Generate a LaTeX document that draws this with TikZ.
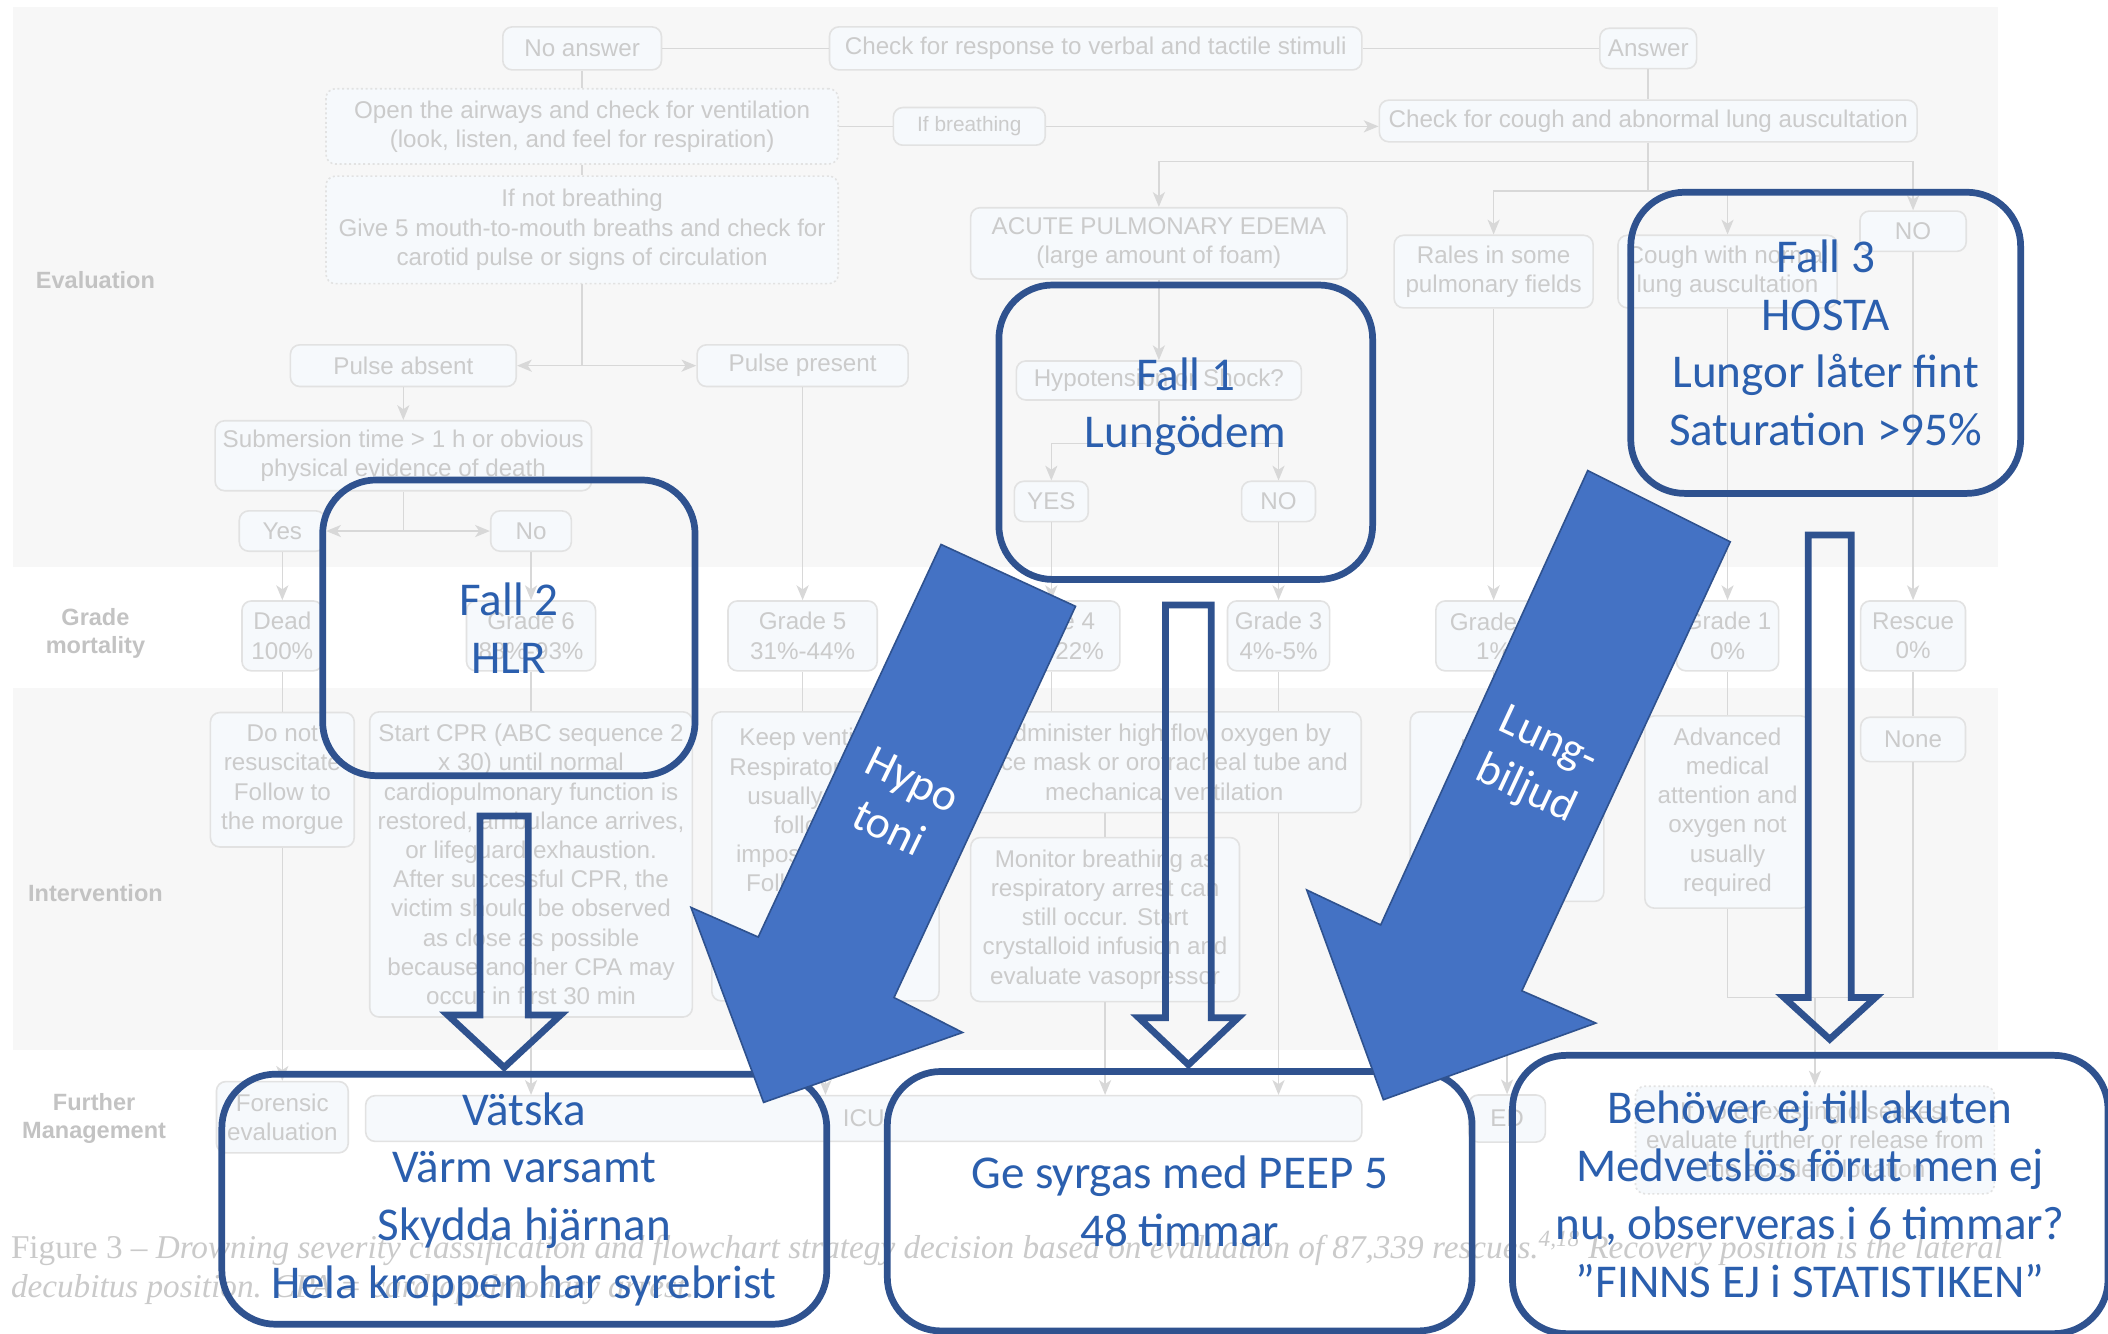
\documentclass[tikz,border=0pt]{standalone}
\usepackage{fontspec}
\setmainfont{Liberation Serif}
\setsansfont{Liberation Sans}
\newfontfamily\callfont{Carlito}
\usepackage{tikz}
\usetikzlibrary{calc}
\usetikzlibrary{positioning}
\usetikzlibrary{arrows.meta}

\definecolor{bandgray}{HTML}{F7F7F7}
\definecolor{fboxfill}{HTML}{F6F9FC}
\definecolor{fboxline}{HTML}{E2E2E2}
\definecolor{ftext}{HTML}{CBCBCB}
\definecolor{flinec}{HTML}{D8D8D8}
\definecolor{labelgray}{HTML}{C3C3C3}
\definecolor{capgray}{HTML}{CACACA}
\definecolor{falledge}{HTML}{2F528F}
\definecolor{falltext}{HTML}{2B5FAE}
\definecolor{arrowblue}{HTML}{4472C4}

\begin{document}
\begin{tikzpicture}[x=1pt,y=-1pt]
\tikzstyle{fbox}=[rectangle,rounded corners=7pt,draw=fboxline,fill=fboxfill,line width=1.2pt,text=ftext,align=center,inner sep=2pt,font=\sffamily\fontsize{18}{21.7}\selectfont]
\tikzstyle{fdots}=[fbox,dash pattern=on 1.5pt off 2pt]
\tikzstyle{fline}=[draw=flinec,line width=1.2pt]
\tikzstyle{farrow}=[fline,-{Stealth[length=11pt,width=9pt,inset=3pt]}]
\tikzstyle{flabel}=[text=labelgray,align=center,font=\sffamily\bfseries\fontsize{17.5}{21}\selectfont]
\tikzstyle{fallbox}=[rectangle,rounded corners=40pt,draw=falledge,line width=5pt,text=falltext,align=center,font=\callfont\fontsize{35}{43}\selectfont]
\tikzstyle{falltext}=[text=falltext,align=center,font=\callfont\fontsize{35}{43}\selectfont]
\tikzstyle{hollow}=[draw=falledge,line width=5pt]
\tikzstyle{bigarrow}=[fill=arrowblue,draw=falledge,line width=1.2pt]
\tikzstyle{arrowtext}=[text=white,align=center,font=\callfont\fontsize{34}{40}\selectfont]

\useasboundingbox (0,0) rectangle (1568,992);
\clip (0,0) rectangle (1568,992);
\fill[white] (0,0) rectangle (1568,992);

% bands of the faded chart
\fill[bandgray] (10,5) rectangle (1486,422);
\fill[bandgray] (10,512) rectangle (1486,781);

\node[flabel] (lbleval) at (71,208) {Evaluation};
\node[flabel] (lblgrade) at (71,471) {Grade\\mortality};
\node[flabel] (lblint) at (71,664) {Intervention};
\node[flabel] (lblfurther) at (70,832) {Further\\Management};

% evaluation
\node[fbox,minimum width=118,minimum height=32] (noans) at (433,36) {No answer};
\node[fbox,minimum width=396,minimum height=32] (stimuli) at (815,36) {Check for response to verbal and tactile stimuli};
\node[fbox,minimum width=72,minimum height=30] (answer) at (1226,36) {Answer};
\node[fdots,minimum width=381,minimum height=56] (airway) at (433,94) {Open the airways and check for ventilation\\(look, listen, and feel for respiration)};
\node[fbox,minimum width=113,minimum height=28,font=\sffamily\fontsize{15.5}{19}\selectfont] (ifbreath) at (721,94) {If breathing};
\node[fbox,minimum width=400,minimum height=31] (coughchk) at (1226,90) {Check for cough and abnormal lung auscultation};
\node[fdots,minimum width=381,minimum height=80] (notbreath) at (433,171) {If not breathing\\Give 5 mouth-to-mouth breaths and check for\\carotid pulse or signs of circulation};
\node[fbox,minimum width=168,minimum height=31] (pabsent) at (300,272) {Pulse absent};
\node[fbox,minimum width=157,minimum height=31] (ppresent) at (597,272) {Pulse present};
\node[fbox,minimum width=280,minimum height=52] (submersion) at (300,339) {Submersion time > 1 h or obvious\\physical evidence of death};
\node[fbox,minimum width=64,minimum height=30] (yes) at (210,395) {Yes};
\node[fbox,minimum width=60,minimum height=30] (no) at (395,395) {No};
\node[fbox,minimum width=280,minimum height=53] (edema) at (862,181) {ACUTE PULMONARY EDEMA\\(large amount of foam)};
\node[fbox,minimum width=148,minimum height=54] (rales) at (1111,202) {Rales in some\\pulmonary fields};
\node[fbox,minimum width=163,minimum height=54] (coughok) at (1285,202) {Cough with normal\\lung auscultation};
\node[fbox,minimum width=79,minimum height=30] (nocough) at (1423,172) {NO};
\node[fbox,minimum width=212,minimum height=29] (hypotension) at (862,283) {Hypotension or Shock?};
\node[fbox,minimum width=55,minimum height=30] (hypoyes) at (782,373) {YES};
\node[fbox,minimum width=55,minimum height=30] (hypono) at (951,373) {NO};

% grade and mortality
\node[fbox,minimum width=60,minimum height=52] (dead) at (210,473) {Dead\\100\%};
\node[fbox,minimum width=96,minimum height=52] (grsix) at (395,473) {Grade 6\\88\%-93\%};
\node[fbox,minimum width=111,minimum height=52] (grfive) at (597,473) {Grade 5\\31\%-44\%};
\node[fbox,minimum width=102,minimum height=52] (grfour) at (782,473) {Grade 4\\19\%-22\%};
\node[fbox,minimum width=76,minimum height=52] (grthree) at (951,473) {Grade 3\\4\%-5\%};
\node[fbox,minimum width=86,minimum height=52] (grtwo) at (1111,473) {Grade 2\\1\%};
\node[fbox,minimum width=76,minimum height=52] (grone) at (1285,473) {Grade 1\\0\%};
\node[fbox,minimum width=78,minimum height=52] (rescue) at (1423,473) {Rescue\\0\%};

% intervention
\node[fbox,minimum width=107,minimum height=100] (dnr) at (210,580) {Do not\\resuscitate\\Follow to\\the morgue};
\node[fbox,minimum width=240,minimum height=227] (cpr) at (395,643) {Start CPR (ABC sequence 2\\x 30) until normal\\cardiopulmonary function is\\restored, ambulance arrives,\\or lifeguard exhaustion.\\After successful CPR, the\\victim should be observed\\as close as possible\\because another CPA may\\occur in first 30 min};
\node[fbox,minimum width=169,minimum height=215] (vent) at (614,637) {Keep ventilation\\Respiratory arrest\\usually quickly\\follows. If\\impossible, CPR\\Follow grade 4\\steps after\\return of\\breathing};
\node[fbox,minimum width=293,minimum height=75] (oxy) at (866,567) {Administer high flow oxygen by\\face mask or orotracheal tube and\\mechanical ventilation};
\node[fbox,minimum width=200,minimum height=122] (monitor) at (822,684) {Monitor breathing as\\respiratory arrest can\\still occur. Start\\crystalloid infusion and\\evaluate vasopressor};
\node[fbox,minimum width=144,minimum height=141] (grtwoint) at (1121,600) {Low flow\\oxygen by\\nasal\\cannula\\observation};
\node[fbox,minimum width=123,minimum height=143] (advanced) at (1285,604) {Advanced\\medical\\attention and\\oxygen not\\usually\\required};
\node[fbox,minimum width=78,minimum height=33] (none) at (1423,550) {None};

% further management
\node[fbox,minimum width=98,minimum height=53] (forensic) at (210,831) {Forensic\\evaluation};
\node[fbox,minimum width=741,minimum height=34] (icu) at (642.5,832) {ICU};
\node[fbox,minimum width=57,minimum height=35] (ed) at (1121,832) {ED};
\node[fdots,minimum width=267,minimum height=80] (observe) at (1350,848) {If no coexisting diseases,\\evaluate further or release from\\the accident location};

% connectors of the faded chart
\draw[fline] (noans) -- (stimuli);
\draw[fline] (stimuli) -- (answer);
\draw[fline] (noans) -- (airway);
\draw[fline] (answer) -- (coughchk);
\draw[fline] (airway) -- (ifbreath);
\draw[farrow] (ifbreath.east) -- (ifbreath.east -| coughchk.west);
\draw[fline] (airway) -- (notbreath);
\draw[fline] (notbreath.south) -- (notbreath.south |- pabsent.east) coordinate (pulsesplit);
\draw[farrow] (pulsesplit) -- (pabsent.east);
\draw[farrow] (pulsesplit) -- (ppresent.west);
\draw[farrow] (pabsent) -- (submersion);
\draw[fline] (submersion.south) -- (submersion.south |- yes.east) coordinate (deathsplit);
\draw[farrow] (deathsplit) -- (yes.east);
\draw[farrow] (deathsplit) -- (no.west);
\draw[farrow] (yes) -- (dead);
\draw[farrow] (no) -- (grsix);
\draw[farrow] (ppresent) -- (grfive);
\coordinate (coughsplit) at (1226,120);
\coordinate (coughsplitb) at (1226,142);
\draw[fline] (coughchk.south) -- (coughsplitb);
\draw[farrow] (coughsplit) -| (edema.north);
\draw[farrow] (coughsplit) -| (nocough.north);
\draw[farrow] (coughsplitb) -| (rales.north);
\draw[farrow] (coughsplitb) -| (coughok.north);
\draw[farrow] (edema) -- (hypotension);
\coordinate (hyposplit) at (862,330);
\draw[fline] (hypotension.south) -- (hyposplit);
\draw[farrow] (hyposplit) -| (hypoyes.north);
\draw[farrow] (hyposplit) -| (hypono.north);
\draw[farrow] (hypoyes) -- (grfour);
\draw[farrow] (hypono) -- (grthree);
\draw[farrow] (rales) -- (grtwo);
\draw[farrow] (coughok) -- (grone);
\draw[farrow] (nocough) -- (rescue);
\draw[fline] (dead) -- (dnr);
\draw[fline] (grsix) -- (cpr);
\draw[fline] (grfive.south) -- (grfive.south |- vent.north);
\draw[fline] (grfour.south) -- (grfour.south |- oxy.north);
\draw[fline] (grthree.south) -- (grthree.south |- oxy.north);
\draw[fline] (monitor.north |- oxy.south) -- (monitor.north);
\draw[fline] (grtwo.south) -- (grtwo.south |- grtwoint.north);
\draw[fline] (grone) -- (advanced);
\draw[fline] (rescue) -- (none);
\draw[farrow] (dnr) -- (forensic);
\draw[farrow] (cpr.south) -- (cpr.south |- icu.north);
\draw[farrow] (vent.south) -- (vent.south |- icu.north);
\draw[farrow] (monitor.south) -- (monitor.south |- icu.north);
\draw[farrow] (grthree.south |- oxy.south) -- (grthree.south |- icu.north);
\draw[farrow] (grtwoint) -- (ed);
\coordinate (obsjoin) at (1350,742);
\draw[fline] (advanced.south) |- (obsjoin) -| (none.south);
\draw[farrow] (obsjoin) -- (observe.north);

% caption
\node[anchor=base west,inner sep=0,text=capgray,font=\fontsize{24.7}{29}\selectfont] (captiona) at (8,936) {Figure 3 – \textit{Drowning severity classification and flowchart strategy decision based on evaluation of 87,339 rescues.\textsuperscript{4,18} Recovery position is the lateral}};
\node[anchor=base west,inner sep=0,text=capgray,font=\fontsize{24.7}{29}\selectfont] (captionb) at (8,965) {\textit{decubitus position. CPA = cardiopulmonary arrest.}};

% cases
\node[fallbox,minimum width=277,minimum height=220] (fall2) at (378.5,467) {Fall 2\\HLR};
\node[fallbox,minimum width=278,minimum height=219] (fall1) at (882,321.5) {};
\node[falltext] (fall1text) at (882,302.5) {Fall 1\\Lungödem};
\node[fallbox,minimum width=290,minimum height=224] (fall3) at (1358,255) {Fall 3\\HOSTA\\Lungor låter fint\\Saturation >95\%};
\node[fallbox,minimum width=450,minimum height=186] (fluids) at (390,892) {Vätska\\Värm varsamt\\Skydda hjärnan\\Hela kroppen har syrebrist};
\node[fallbox,minimum width=435,minimum height=193] (oxygen) at (877.5,893.5) {Ge syrgas med PEEP 5\\48 timmar};
\node[fallbox,minimum width=443,minimum height=207] (home) at (1346.5,888.5) {Behöver ej till akuten\\Medvetslös förut men ej\\nu, observeras i 6 timmar?\\”FINNS EJ i STATISTIKEN”};

% hollow arrows
\draw[hollow] (357,607) -- (393,607) -- (393,755) -- (417,755) -- (375,794) -- (333,755) -- (357,755) -- cycle;
\draw[hollow] (867,450) -- (901,450) -- (901,757) -- (921,757) -- (884,792) -- (847,757) -- (867,757) -- cycle;
\draw[hollow] (1345,398) -- (1377,398) -- (1377,742) -- (1395,742) -- (1361,773) -- (1327,742) -- (1345,742) -- cycle;

% big arrows
\draw[bigarrow] (700,405) -- (800,451) -- (665,742) -- (716,768) -- (568,820) -- (514,675) -- (564,697) -- cycle;
\node[arrowtext,rotate=-26] (hypotxt) at (670,598) {Hypo\\toni};
\draw[bigarrow] (1181,350) -- (1287,403) -- (1132,737) -- (1187,761) -- (1029,818) -- (972,662) -- (1027,688) -- cycle;
\node[arrowtext,rotate=-25] (lungtxt) at (1143,570) {Lung-\\biljud};
\end{tikzpicture}
\end{document}
